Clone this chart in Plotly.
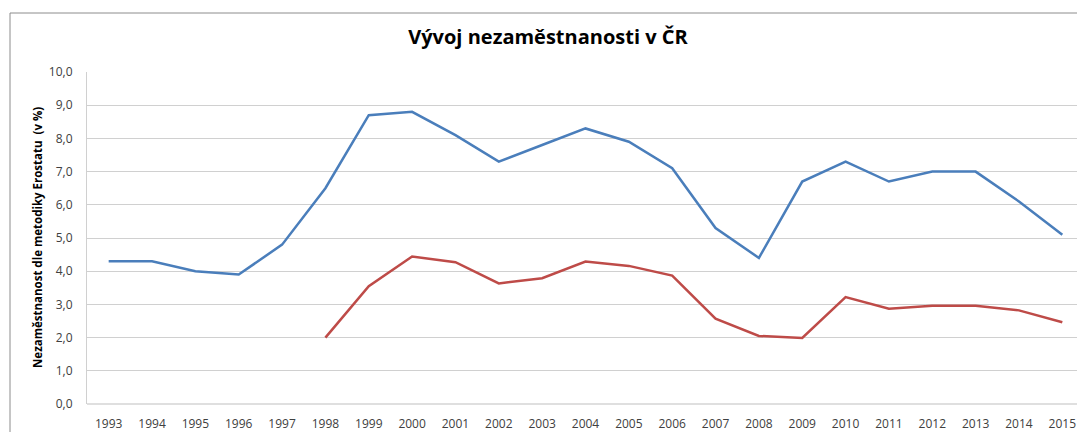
import plotly.graph_objects as go

years = list(range(1993, 2016))
blue_values = [4.3, 4.3, 4.0, 3.9, 4.8, 6.5, 8.7, 8.8, 8.1, 7.3, 7.8, 8.3,
               7.9, 7.1, 5.3, 4.4, 6.7, 7.3, 6.7, 7.0, 7.0, 6.1, 5.1]
red_years = list(range(1998, 2016))
red_values = [2.0, 3.55, 4.44, 4.27, 3.63, 3.79, 4.29, 4.16, 3.87, 2.57,
              2.05, 1.99, 3.22, 2.87, 2.96, 2.96, 2.82, 2.46]
y_ticks = [0, 1, 2, 3, 4, 5, 6, 7, 8, 9, 10]

title_text = "Vývoj nezaměstnanosti v ČR"
y_title = "Nezaměstnanost dle metodiky Erostatu  (v %)"

# page body has an 8px margin; figure is laid out relative to that
W, H = 1077, 424
L, R, T, B = 79, 1, 64, 28
pw = W - L - R
ph = H - T - B

fig = go.Figure()
fig.add_trace(go.Scatter(x=years, y=blue_values, mode="lines",
                         line=dict(color="#4a7ebb", width=2.5), showlegend=False))
fig.add_trace(go.Scatter(x=red_years, y=red_values, mode="lines",
                         line=dict(color="#be4b48", width=2.5), showlegend=False))

fig.update_layout(
    width=W, height=H,
    margin=dict(l=L, r=R, t=T, b=B),
    paper_bgcolor="white", plot_bgcolor="white",
    separators=", ",
    font=dict(family="Open Sans, sans-serif", color="#404040", size=12),
    title=dict(text="<b>" + title_text + "</b>", xref="container", yref="container",
               x=540 / W, y=1 - 29 / H, xanchor="center", yanchor="middle",
               font=dict(size=20, color="black", family="Open Sans, sans-serif")),
    xaxis=dict(range=[1992.5, 2015.5], tickvals=years, ticktext=[str(y) for y in years],
               showgrid=False, zeroline=False, showline=False, ticks="",
               ticklabelstandoff=11, tickfont=dict(size=12, color="#404040")),
    yaxis=dict(range=[0, 10], tickvals=y_ticks, tickformat=".1f",
               showgrid=True, gridcolor="#d0d0d0", gridwidth=1.2,
               zeroline=False, showline=True, linecolor="#d0d0d0", linewidth=1.2,
               ticks="", ticklabelstandoff=11, tickfont=dict(size=12, color="#404040")),
    shapes=[
        dict(type="rect", xref="paper", yref="paper",
             x0=(2 - L) / pw, x1=1.1, y0=-0.3, y1=(H - B - 5) / ph,
             line=dict(color="#8c8c8c", width=1), fillcolor="rgba(0,0,0,0)", layer="above"),
        dict(type="line", xref="paper", yref="paper", x0=0, x1=1, y0=0, y1=0,
             line=dict(color="#bfbfbf", width=1.2)),
    ],
    annotations=[
        dict(text="<b>" + y_title + "</b>", xref="paper", yref="paper",
             x=(29 - L) / pw, y=0.5, xanchor="center", yanchor="middle",
             textangle=-90, showarrow=False,
             font=dict(size=11.5, color="black", family="Open Sans, sans-serif")),
    ],
)

fig.write_html("out.html")
